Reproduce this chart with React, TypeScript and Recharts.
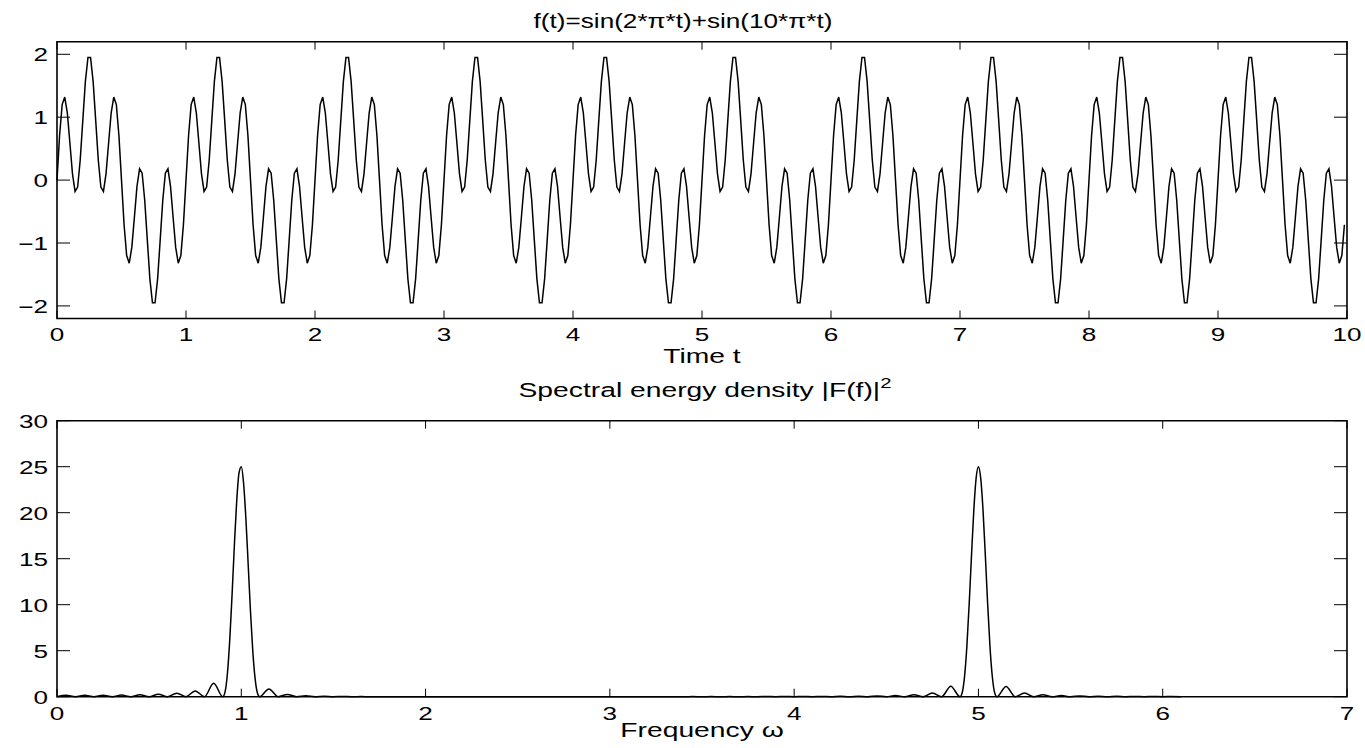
import { LineChart, Line, XAxis, YAxis, ReferenceArea } from "recharts";

// signal samples, dt = 0.02, t = 0 .. 9.98
const TIME_STEP = 0.02;
const SIGNAL = [
  0, 0.71, 1.2, 1.32, 1.07, 0.59, 0.1, -0.18, -0.11, 0.32, 0.95, 1.57, 1.95, 1.95, 1.57, 0.95, 0.32, -0.11, -0.18, 0.1, 0.59, 1.07, 1.32, 1.2, 0.71, 0, -0.71, -1.2, -1.32, -1.07, -0.59, -0.1, 0.18, 0.11, -0.32, -0.95, -1.57, -1.95, -1.95, -1.57, -0.95, -0.32, 0.11, 0.18, -0.1, -0.59, -1.07, -1.32, -1.2, -0.71,
  0, 0.71, 1.2, 1.32, 1.07, 0.59, 0.1, -0.18, -0.11, 0.32, 0.95, 1.57, 1.95, 1.95, 1.57, 0.95, 0.32, -0.11, -0.18, 0.1, 0.59, 1.07, 1.32, 1.2, 0.71, 0, -0.71, -1.2, -1.32, -1.07, -0.59, -0.1, 0.18, 0.11, -0.32, -0.95, -1.57, -1.95, -1.95, -1.57, -0.95, -0.32, 0.11, 0.18, -0.1, -0.59, -1.07, -1.32, -1.2, -0.71,
  0, 0.71, 1.2, 1.32, 1.07, 0.59, 0.1, -0.18, -0.11, 0.32, 0.95, 1.57, 1.95, 1.95, 1.57, 0.95, 0.32, -0.11, -0.18, 0.1, 0.59, 1.07, 1.32, 1.2, 0.71, 0, -0.71, -1.2, -1.32, -1.07, -0.59, -0.1, 0.18, 0.11, -0.32, -0.95, -1.57, -1.95, -1.95, -1.57, -0.95, -0.32, 0.11, 0.18, -0.1, -0.59, -1.07, -1.32, -1.2, -0.71,
  0, 0.71, 1.2, 1.32, 1.07, 0.59, 0.1, -0.18, -0.11, 0.32, 0.95, 1.57, 1.95, 1.95, 1.57, 0.95, 0.32, -0.11, -0.18, 0.1, 0.59, 1.07, 1.32, 1.2, 0.71, 0, -0.71, -1.2, -1.32, -1.07, -0.59, -0.1, 0.18, 0.11, -0.32, -0.95, -1.57, -1.95, -1.95, -1.57, -0.95, -0.32, 0.11, 0.18, -0.1, -0.59, -1.07, -1.32, -1.2, -0.71,
  0, 0.71, 1.2, 1.32, 1.07, 0.59, 0.1, -0.18, -0.11, 0.32, 0.95, 1.57, 1.95, 1.95, 1.57, 0.95, 0.32, -0.11, -0.18, 0.1, 0.59, 1.07, 1.32, 1.2, 0.71, 0, -0.71, -1.2, -1.32, -1.07, -0.59, -0.1, 0.18, 0.11, -0.32, -0.95, -1.57, -1.95, -1.95, -1.57, -0.95, -0.32, 0.11, 0.18, -0.1, -0.59, -1.07, -1.32, -1.2, -0.71,
  0, 0.71, 1.2, 1.32, 1.07, 0.59, 0.1, -0.18, -0.11, 0.32, 0.95, 1.57, 1.95, 1.95, 1.57, 0.95, 0.32, -0.11, -0.18, 0.1, 0.59, 1.07, 1.32, 1.2, 0.71, 0, -0.71, -1.2, -1.32, -1.07, -0.59, -0.1, 0.18, 0.11, -0.32, -0.95, -1.57, -1.95, -1.95, -1.57, -0.95, -0.32, 0.11, 0.18, -0.1, -0.59, -1.07, -1.32, -1.2, -0.71,
  0, 0.71, 1.2, 1.32, 1.07, 0.59, 0.1, -0.18, -0.11, 0.32, 0.95, 1.57, 1.95, 1.95, 1.57, 0.95, 0.32, -0.11, -0.18, 0.1, 0.59, 1.07, 1.32, 1.2, 0.71, 0, -0.71, -1.2, -1.32, -1.07, -0.59, -0.1, 0.18, 0.11, -0.32, -0.95, -1.57, -1.95, -1.95, -1.57, -0.95, -0.32, 0.11, 0.18, -0.1, -0.59, -1.07, -1.32, -1.2, -0.71,
  0, 0.71, 1.2, 1.32, 1.07, 0.59, 0.1, -0.18, -0.11, 0.32, 0.95, 1.57, 1.95, 1.95, 1.57, 0.95, 0.32, -0.11, -0.18, 0.1, 0.59, 1.07, 1.32, 1.2, 0.71, 0, -0.71, -1.2, -1.32, -1.07, -0.59, -0.1, 0.18, 0.11, -0.32, -0.95, -1.57, -1.95, -1.95, -1.57, -0.95, -0.32, 0.11, 0.18, -0.1, -0.59, -1.07, -1.32, -1.2, -0.71,
  0, 0.71, 1.2, 1.32, 1.07, 0.59, 0.1, -0.18, -0.11, 0.32, 0.95, 1.57, 1.95, 1.95, 1.57, 0.95, 0.32, -0.11, -0.18, 0.1, 0.59, 1.07, 1.32, 1.2, 0.71, 0, -0.71, -1.2, -1.32, -1.07, -0.59, -0.1, 0.18, 0.11, -0.32, -0.95, -1.57, -1.95, -1.95, -1.57, -0.95, -0.32, 0.11, 0.18, -0.1, -0.59, -1.07, -1.32, -1.2, -0.71,
  0, 0.71, 1.2, 1.32, 1.07, 0.59, 0.1, -0.18, -0.11, 0.32, 0.95, 1.57, 1.95, 1.95, 1.57, 0.95, 0.32, -0.11, -0.18, 0.1, 0.59, 1.07, 1.32, 1.2, 0.71, 0, -0.71, -1.2, -1.32, -1.07, -0.59, -0.1, 0.18, 0.11, -0.32, -0.95, -1.57, -1.95, -1.95, -1.57, -0.95, -0.32, 0.11, 0.18, -0.1, -0.59, -1.07, -1.32, -1.2, -0.71,
];

// [frequency, |F(f)|^2]
const SPECTRUM: [number, number][] = [
  [0, 0], [0.05, 0.15], [0.1, 0], [0.15, 0.15], [0.2, 0], [0.25, 0.16], [0.3, 0], [0.35, 0.18], [0.4, 0],
  [0.45, 0.21], [0.5, 0], [0.55, 0.27], [0.6, 0], [0.65, 0.38], [0.7, 0], [0.75, 0.63], [0.8, 0], [0.85, 1.47],
  [0.9, 0], [0.9125, 0.57], [0.925, 2.58], [0.9375, 6.2], [0.95, 11.09], [0.9625, 16.46], [0.975, 21.21], [0.9875, 24.29],
  [1, 25], [1.0125, 23.2], [1.025, 19.35], [1.0375, 14.35], [1.05, 9.24], [1.0625, 4.93], [1.075, 1.96], [1.0875, 0.41],
  [1.1, 0], [1.15, 0.85], [1.2, 0], [1.25, 0.25], [1.3, 0], [1.35, 0.1], [1.4, 0], [1.45, 0.05], [1.5, 0], [1.55, 0.025],
  [1.6, 0], [1.65, 0.013], [1.7, 0], [1.75, 0.007], [1.8, 0], [1.85, 0.003], [1.9, 0], [1.95, 0.001], [2, 0],
  [2.05, 0.0005], [2.1, 0], [2.15, 0.0001], [2.2, 0], [2.25, 0], [2.3, 0], [2.35, 0.0001], [2.4, 0], [2.45, 0.0004],
  [2.5, 0], [2.55, 0.0008], [2.6, 0], [2.65, 0.0013], [2.7, 0], [2.75, 0.0018], [2.8, 0], [2.85, 0.0025], [2.9, 0],
  [2.95, 0.0032], [3, 0], [3.05, 0.004], [3.1, 0], [3.15, 0.0049], [3.2, 0], [3.25, 0.0059], [3.3, 0], [3.35, 0.0071],
  [3.4, 0], [3.45, 0.0085], [3.5, 0], [3.55, 0.0102], [3.6, 0], [3.65, 0.0122], [3.7, 0], [3.75, 0.0147], [3.8, 0],
  [3.85, 0.0178], [3.9, 0], [3.95, 0.0218], [4, 0], [4.05, 0.027], [4.1, 0], [4.15, 0.034], [4.2, 0], [4.25, 0.044],
  [4.3, 0], [4.35, 0.06], [4.4, 0], [4.45, 0.084], [4.5, 0], [4.55, 0.125], [4.6, 0], [4.65, 0.21], [4.7, 0],
  [4.75, 0.41], [4.8, 0], [4.85, 1.13], [4.9, 0], [4.9125, 0.49], [4.925, 2.26], [4.9375, 5.55], [4.95, 10.15],
  [4.9625, 15.39], [4.975, 20.28], [4.9875, 23.75], [5, 25], [5.0125, 23.73], [5.025, 20.25], [5.0375, 15.35],
  [5.05, 10.11], [5.0625, 5.52], [5.075, 2.25], [5.0875, 0.48], [5.1, 0], [5.15, 1.12], [5.2, 0], [5.25, 0.4],
  [5.3, 0], [5.35, 0.2], [5.4, 0], [5.45, 0.12], [5.5, 0], [5.55, 0.08], [5.6, 0], [5.65, 0.058], [5.7, 0],
  [5.75, 0.043], [5.8, 0], [5.85, 0.033], [5.9, 0], [5.95, 0.026], [6, 0], [6.05, 0.021], [6.1, 0],
];

const TIME_TICKS = [0, 1, 2, 3, 4, 5, 6, 7, 8, 9, 10];
const SIGNAL_TICKS = [-2, -1, 0, 1, 2];
const FREQ_TICKS = [0, 1, 2, 3, 4, 5, 6, 7];
const POWER_TICKS = [0, 5, 10, 15, 20, 25, 30];

const W = 1365;
const H = 748;
const LEFT = 57;
const RIGHT = 1347;
const TOP1 = 41.7;
const BOT1 = 318.5;
const TOP2 = 420.7;
const BOT2 = 696.7;
const FONT = '"Liberation Sans", Arial, Helvetica, sans-serif';
const SX = 1.45;
const TICK_FS = 18;
const LABEL_FS = 19.5;

const signalData = SIGNAL.map((v, i) => ({ t: +(i * TIME_STEP).toFixed(2), v }));
const spectrumData = SPECTRUM.map(([f, p]) => ({ f, p }));

const fmt = (v: number) => (v < 0 ? "\u2212" + Math.abs(v) : String(v));

function Stretched({ x, y, size, anchor = "middle", sx = SX, children }: any) {
  return (
    <text
      transform={`translate(${x} ${y}) scale(${sx} 1)`}
      textAnchor={anchor}
      fontFamily={FONT}
      fontSize={size}
      fill="#000"
    >
      {children}
    </text>
  );
}

const xTick = (top: number, bottom: number, labelY: number) => (props: any) => {
  const { x, payload } = props;
  return (
    <g>
      <line x1={x} x2={x} y1={bottom} y2={bottom - 8} stroke="#000" strokeWidth={1} />
      <line x1={x} x2={x} y1={top} y2={top + 8} stroke="#000" strokeWidth={1} />
      <Stretched x={x} y={labelY} size={TICK_FS}>{fmt(payload.value)}</Stretched>
    </g>
  );
};

const yTick = (props: any) => {
  const { y, payload } = props;
  return (
    <g>
      <line x1={LEFT} x2={LEFT + 13} y1={y} y2={y} stroke="#000" strokeWidth={1} />
      <line x1={RIGHT} x2={RIGHT - 13} y1={y} y2={y} stroke="#000" strokeWidth={1} />
      <Stretched x={48} y={y + 7} size={TICK_FS} anchor="end">{fmt(payload.value)}</Stretched>
    </g>
  );
};

const layer: any = { position: "absolute", left: 0, top: 0 };

export default function App() {
  return (
    <div style={{ position: "absolute", left: 0, top: 0, width: W, height: H, background: "#fff" }}>
      <div style={layer}>
        <LineChart
          width={W}
          height={H}
          data={signalData}
          margin={{ top: TOP1, left: LEFT - 20, right: W - RIGHT, bottom: H - BOT1 - 20 }}
        >
          <XAxis
            dataKey="t"
            type="number"
            domain={[0, 10]}
            ticks={TIME_TICKS}
            interval={0}
            height={20}
            axisLine={false}
            tickLine={false}
            tick={xTick(TOP1, BOT1, 341)}
          />
          <YAxis
            type="number"
            domain={[-2.2, 2.2]}
            ticks={SIGNAL_TICKS}
            interval={0}
            width={20}
            axisLine={false}
            tickLine={false}
            tick={yTick}
          />
          <ReferenceArea x1={0} x2={10} y1={-2.2} y2={2.2} fill="none" stroke="#000" strokeWidth={1.6} ifOverflow="visible" />
          <Line dataKey="v" type="linear" stroke="#000" strokeWidth={1.5} dot={false} isAnimationActive={false} />
        </LineChart>
      </div>
      <div style={layer}>
        <LineChart
          width={W}
          height={H}
          data={spectrumData}
          margin={{ top: TOP2, left: LEFT - 20, right: W - RIGHT, bottom: H - BOT2 - 20 }}
        >
          <XAxis
            dataKey="f"
            type="number"
            domain={[0, 7]}
            ticks={FREQ_TICKS}
            interval={0}
            height={20}
            axisLine={false}
            tickLine={false}
            tick={xTick(TOP2, BOT2, 720)}
          />
          <YAxis
            type="number"
            domain={[0, 30]}
            ticks={POWER_TICKS}
            interval={0}
            width={20}
            axisLine={false}
            tickLine={false}
            tick={yTick}
          />
          <ReferenceArea x1={0} x2={7} y1={0} y2={30} fill="none" stroke="#000" strokeWidth={1.6} ifOverflow="visible" />
          <Line dataKey="p" type="monotone" stroke="#000" strokeWidth={1.5} dot={false} isAnimationActive={false} />
        </LineChart>
      </div>
      <svg style={{ ...layer, pointerEvents: "none" }} width={W} height={H}>
        <Stretched x={683} y={28} size={LABEL_FS} sx={1.34}>f(t)=sin(2*π*t)+sin(10*π*t)</Stretched>
        <Stretched x={702} y={363} size={LABEL_FS}>Time t</Stretched>
        <Stretched x={705} y={397} size={LABEL_FS}>
          Spectral energy density |F(f)|
          <tspan dy={-9} fontSize={14}>2</tspan>
        </Stretched>
        <Stretched x={702} y={737} size={LABEL_FS}>Frequency ω</Stretched>
      </svg>
    </div>
  );
}
